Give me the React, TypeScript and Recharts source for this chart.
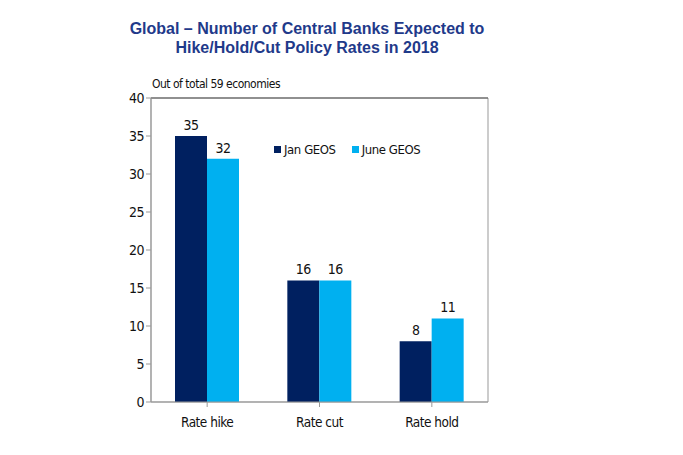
import { Bar, BarChart, LabelList, ReferenceArea, ReferenceLine, XAxis, YAxis } from "recharts";

const categories = ["Rate hike", "Rate cut", "Rate hold"];
const janGeos = [35, 16, 8];
const juneGeos = [32, 16, 11];
const yTicks = [0, 5, 10, 15, 20, 25, 30, 35, 40];

const chartData = categories.map((name, i) => ({
  name,
  jan: janGeos[i],
  june: juneGeos[i],
}));

const FONT = "'Liberation Sans Narrow', 'DejaVu Sans Condensed', sans-serif";
const DARK = "#002060";
const LIGHT = "#00B0F0";

function LegendBox() {
  const items = [
    { label: "Jan GEOS", color: DARK },
    { label: "June GEOS", color: LIGHT },
  ];
  return (
    <div
      style={{
        position: "absolute",
        left: 274,
        top: 142,
        display: "flex",
        gap: 16,
        fontFamily: FONT,
        fontSize: 13,
        color: "#111",
        letterSpacing: -0.4,
      }}
    >
      {items.map((it) => (
        <div key={it.label} style={{ display: "flex", alignItems: "center" }}>
          <span style={{ width: 7, height: 7, background: it.color, marginRight: 3, display: "inline-block" }} />
          {it.label}
        </div>
      ))}
    </div>
  );
}

export default function App() {
  return (
    <div style={{ position: "absolute", left: 0, top: 0, width: 683, height: 455, background: "#fff" }}>
      <div
        style={{
          position: "absolute",
          left: 0,
          width: 614,
          top: 19,
          textAlign: "center",
          fontFamily: "Arial, 'Liberation Sans', sans-serif",
          fontWeight: "bold",
          fontSize: 16,
          lineHeight: "19px",
          color: "#1F3A8A",
        }}
      >
        Global – Number of Central Banks Expected to
        <br />
        Hike/Hold/Cut Policy Rates in 2018
      </div>
      <div
        style={{
          position: "absolute",
          left: 152,
          top: 77,
          fontFamily: FONT,
          fontSize: 12,
          letterSpacing: -0.5,
          color: "#111",
        }}
      >
        Out of total 59 economies
      </div>
      <BarChart
        width={683}
        height={455}
        data={chartData}
        margin={{ top: 98, right: 195, left: 111, bottom: 23 }}
        barCategoryGap={24}
        barGap={0}
      >
        <ReferenceArea y1={0} y2={40} fill="none" stroke="#999" ifOverflow="visible" />
        <ReferenceLine y={40} stroke="#555" ifOverflow="visible" />
        <XAxis
          dataKey="name"
          height={30}
          axisLine={{ stroke: "#999" }}
          tickLine={{ stroke: "#999" }}
          tickSize={5}
          tickMargin={10}
          tick={{ fontFamily: FONT, fontSize: 13.5, fill: "#111", letterSpacing: -0.5 }}
          interval={0}
        />
        <YAxis
          domain={[0, 40]}
          ticks={yTicks}
          width={40}
          axisLine={{ stroke: "#999" }}
          tickLine={{ stroke: "#999" }}
          tickSize={5}
          tick={{ fontFamily: FONT, fontSize: 14, fill: "#111", letterSpacing: -0.5 }}
          interval={0}
        />
        <Bar dataKey="jan" fill={DARK} isAnimationActive={false}>
          <LabelList dataKey="jan" position="top" offset={6} style={{ fontFamily: FONT, fontSize: 14, fill: "#111", letterSpacing: -0.5 }} />
        </Bar>
        <Bar dataKey="june" fill={LIGHT} isAnimationActive={false}>
          <LabelList dataKey="june" position="top" offset={6} style={{ fontFamily: FONT, fontSize: 14, fill: "#111", letterSpacing: -0.5 }} />
        </Bar>
      </BarChart>
      <LegendBox />
    </div>
  );
}
